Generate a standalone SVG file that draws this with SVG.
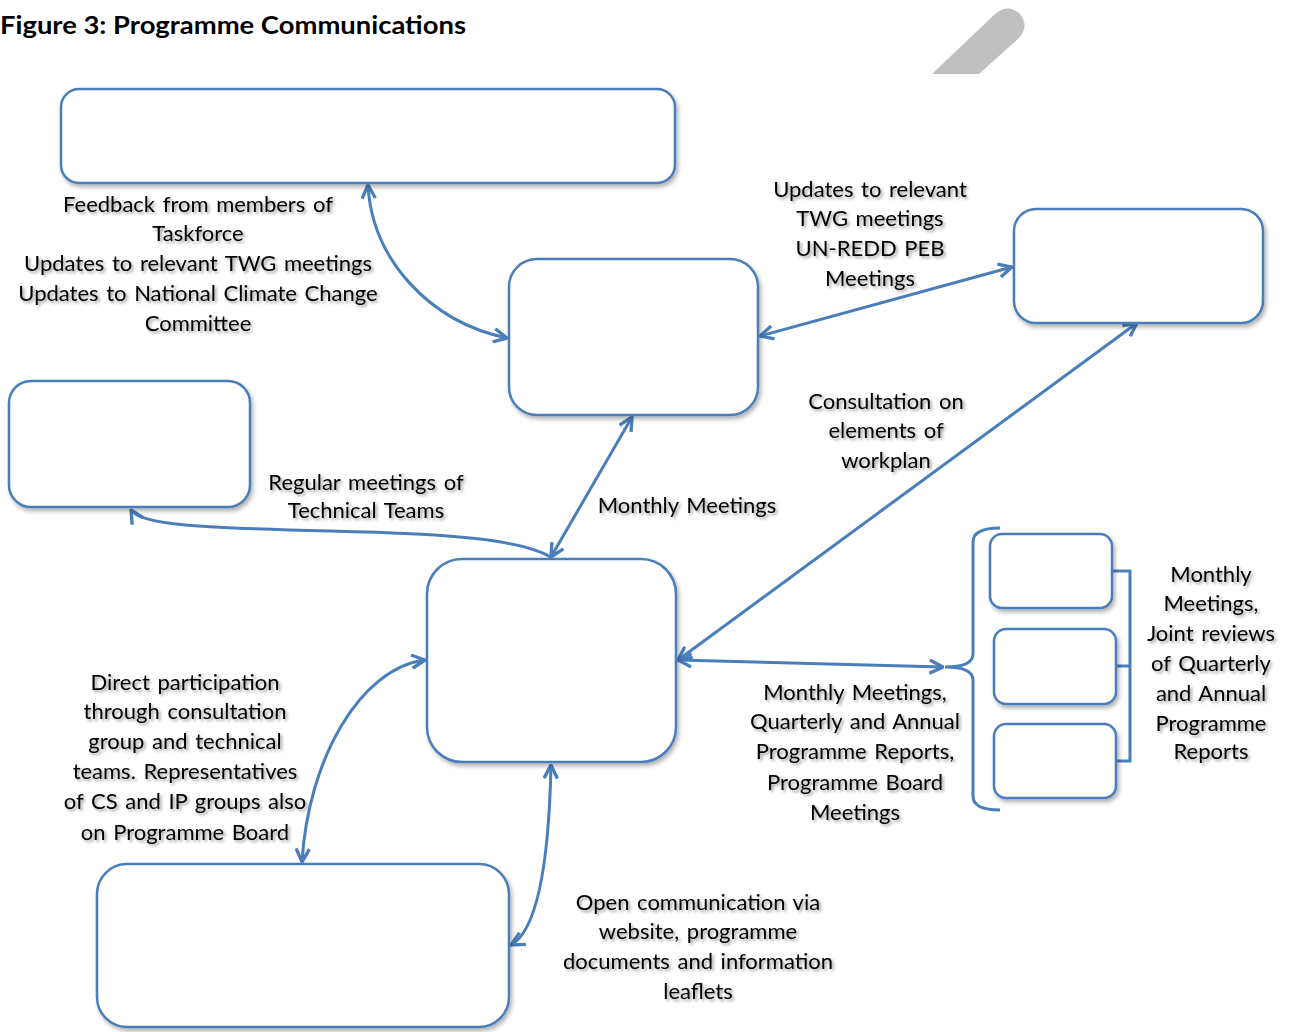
<svg xmlns="http://www.w3.org/2000/svg" width="1291" height="1032" viewBox="0 0 1291 1032">
<style>
.box{fill:#fff;stroke:#4a7ebb;stroke-width:2.5;filter:url(#sh)}
.con{fill:none;stroke:#4a7ebb;stroke-width:3}
.lbl{font-family:Lato,"Liberation Sans",sans-serif;font-size:22px;word-spacing:2px;fill:#000;text-anchor:middle;filter:url(#tsh)}
.title{font-family:Lato,"Liberation Sans",sans-serif;font-size:25px;font-weight:bold;fill:#000}
</style>
<defs>
<filter id="sh" x="-10%" y="-10%" width="130%" height="130%">
<feDropShadow dx="2" dy="3" stdDeviation="2" flood-color="#000" flood-opacity="0.3"/>
</filter>
<filter id="tsh" x="-10%" y="-20%" width="130%" height="160%">
<feDropShadow dx="2" dy="2" stdDeviation="1.5" flood-color="#000" flood-opacity="0.4"/>
</filter>
<marker id="ah" markerUnits="userSpaceOnUse" markerWidth="16" markerHeight="16" viewBox="0 0 12 12" refX="11" refY="6" orient="auto-start-reverse">
<path d="M1,1 L11,6 L1,11" fill="none" stroke="#4a7ebb" stroke-width="2.5"/>
</marker>
</defs>
<rect width="1291" height="1032" fill="#fff"/>
<text class="title" x="0" y="34" textLength="466" lengthAdjust="spacingAndGlyphs">Figure 3: Programme Communications</text>
<path d="M932,74 L995,14 Q1008,3 1020,14 Q1030,27 1018,39 L979,74 Z" fill="#c0c0c0"/>

<g id="connectors">
<path class="con" d="M368,185 C372,260 430,322 507,338" marker-start="url(#ah)" marker-end="url(#ah)"/>
<path class="con" d="M760,336 L1012,267" marker-start="url(#ah)" marker-end="url(#ah)"/>
<path class="con" d="M632,417 L551,557" marker-start="url(#ah)" marker-end="url(#ah)"/>
<path class="con" d="M551,557 C520,540 460,534 330,531 C200,528 140,525 131,510" marker-end="url(#ah)"/>
<path class="con" d="M1137,323 L678,660" marker-start="url(#ah)" marker-end="url(#ah)"/>
<path class="con" d="M678,660 L943,667" marker-start="url(#ah)" marker-end="url(#ah)"/>
<path class="con" d="M425,660 C360,668 308,760 302,862" marker-start="url(#ah)" marker-end="url(#ah)"/>
<path class="con" d="M551,765 C549,860 538,930 511,945" marker-start="url(#ah)" marker-end="url(#ah)"/>
<path class="con" d="M1000,528 Q973,528 973,542 V654 Q973,667 945,667 Q973,667 973,680 V796 Q973,810 1000,810"/>
<path class="con" d="M1112,571 H1130 V761 H1116 M1116,666 H1130"/>
</g>

<g id="node-top"><rect class="box" x="61" y="89" width="614" height="94" rx="18"/></g>
<g id="node-center-top"><rect class="box" x="509" y="259" width="249" height="156" rx="28"/></g>
<g id="node-right"><rect class="box" x="1014" y="209" width="249" height="114" rx="22"/></g>
<g id="node-left"><rect class="box" x="9" y="381" width="241" height="126" rx="22"/></g>
<g id="node-central"><rect class="box" x="427" y="559" width="249" height="203" rx="35"/></g>
<g id="node-small-1"><rect class="box" x="990" y="534" width="122" height="74" rx="12"/></g>
<g id="node-small-2"><rect class="box" x="994" y="629" width="122" height="75" rx="12"/></g>
<g id="node-small-3"><rect class="box" x="994" y="724" width="122" height="74" rx="12"/></g>
<g id="node-bottom"><rect class="box" x="97" y="864" width="412" height="163" rx="30"/></g>

<g id="labels">
<text class="lbl" x="198" y="212">Feedback from members of</text>
<text class="lbl" x="198" y="241">Taskforce</text>
<text class="lbl" x="198" y="271">Updates to relevant TWG meetings</text>
<text class="lbl" x="198" y="301">Updates to National Climate Change</text>
<text class="lbl" x="198" y="331">Committee</text>

<text class="lbl" x="870" y="197">Updates to relevant</text>
<text class="lbl" x="870" y="226">TWG meetings</text>
<text class="lbl" x="870" y="256">UN-REDD PEB</text>
<text class="lbl" x="870" y="286">Meetings</text>

<text class="lbl" x="886" y="409">Consultation on</text>
<text class="lbl" x="886" y="438">elements of</text>
<text class="lbl" x="886" y="468">workplan</text>

<text class="lbl" x="366" y="490">Regular meetings of</text>
<text class="lbl" x="366" y="518">Technical Teams</text>

<text class="lbl" x="687" y="513">Monthly Meetings</text>

<text class="lbl" x="1211" y="582">Monthly</text>
<text class="lbl" x="1211" y="611">Meetings,</text>
<text class="lbl" x="1211" y="641">Joint reviews</text>
<text class="lbl" x="1211" y="671">of Quarterly</text>
<text class="lbl" x="1211" y="701">and Annual</text>
<text class="lbl" x="1211" y="731">Programme</text>
<text class="lbl" x="1211" y="759">Reports</text>

<text class="lbl" x="855" y="700">Monthly Meetings,</text>
<text class="lbl" x="855" y="729">Quarterly and Annual</text>
<text class="lbl" x="855" y="759">Programme Reports,</text>
<text class="lbl" x="855" y="790">Programme Board</text>
<text class="lbl" x="855" y="820">Meetings</text>

<text class="lbl" x="185" y="690">Direct participation</text>
<text class="lbl" x="185" y="719">through consultation</text>
<text class="lbl" x="185" y="749">group and technical</text>
<text class="lbl" x="185" y="779">teams. Representatives</text>
<text class="lbl" x="185" y="809">of CS and IP groups also</text>
<text class="lbl" x="185" y="840">on Programme Board</text>

<text class="lbl" x="698" y="910">Open communication via</text>
<text class="lbl" x="698" y="939">website, programme</text>
<text class="lbl" x="698" y="969">documents and information</text>
<text class="lbl" x="698" y="999">leaflets</text>
</g>
</svg>
